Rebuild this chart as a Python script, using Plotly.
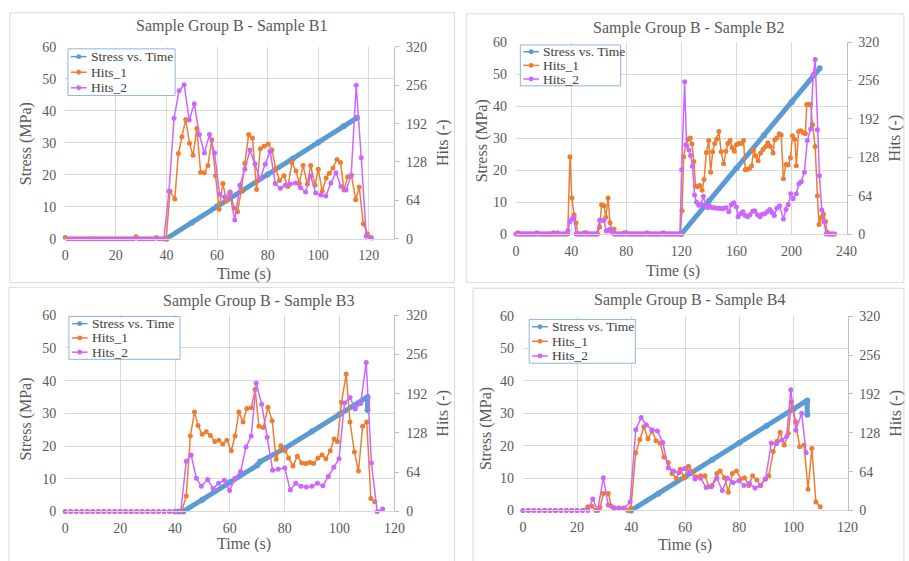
import plotly.graph_objects as go

W, H = 909, 561
FONT = "'Liberation Serif', 'Times New Roman', Times, serif"
TXT = "#595959"
GRID = "#D9D9D9"
BLUE = "#5B9BD5"
ORANGE = "#ED7D31"
PURPLE = "#CC66FF"

# ---------------- Sample B1 ----------------
b1_stress_t = [40, 50, 60, 70, 80, 90, 100, 110, 115.3]
b1_stress = [0, 5.0, 10.1, 15.1, 20.1, 25.1, 30.1, 35.2, 37.8]
b1_h1_t = [0, 2, 4, 6, 8, 10, 12, 14, 16, 18, 20, 22, 24, 26, 28, 30, 32, 34, 36, 38, 39.9,
           41.4, 43.3, 44.7, 46.1, 47.6, 49.1, 50.5, 52.0, 53.5, 55.0,
           56.4, 57.9, 59.4, 60.8, 62.3, 63.7, 65.2, 66.7, 68.1, 69.6,
           71.0, 72.5, 74.0, 75.6, 77.1, 78.6, 80.2, 81.7, 83.2, 84.7,
           86.4, 88.0, 89.6, 91.2, 92.5, 94.0, 95.7, 97.0, 98.7, 100.0,
           101.6, 103.1, 104.4, 105.8, 107.4, 108.8, 110.2, 111.6, 113.1, 114.8,
           116.2, 117.8, 119.4, 120.8]
b1_h1 = [2, 0, 0, 0, 0, 0, 0, 0, 0, 0, 0, 0, 0, 0, 3, 0, 0, 0, 2, 0, 0,
         79, 66, 142, 170, 199, 159, 139, 184, 111, 110,
         122, 165, 105, 49, 92, 63, 78, 51, 45, 81,
         126, 174, 168, 82, 150, 154, 158, 148, 117, 97,
         105, 87, 127, 113, 92, 122, 91, 122, 89, 116,
         79, 101, 109, 118, 132, 127, 81, 103, 106, 65,
         86, 25, 8, 2]
b1_h2_t = [1, 3, 5, 7, 9, 11, 13, 15, 17, 19, 21, 23, 25, 27, 29, 31, 33, 35, 37, 39,
           41, 43, 45, 47, 49, 51, 53, 55, 57, 59, 61, 63, 65, 67, 69, 71, 73, 75, 77, 79,
           81, 83, 85, 87, 89, 91, 93, 95, 97, 99, 101, 103, 105, 107, 109, 111, 113, 115,
           117, 119, 121]
b1_h2 = [0, 0, 0, 0, 0, 0, 0, 0, 0, 0, 0, 0, 0, 0, 0, 0, 0, 0, 0, 0,
         79, 201, 247, 257, 198, 225, 174, 143, 174, 143, 74, 69, 77, 31, 89, 116, 148, 125, 99, 124,
         146, 92, 84, 89, 91, 93, 85, 78, 105, 76, 73, 71, 93, 110, 87, 81, 105, 256,
         135, 4, 1]

# ---------------- Sample B2 ----------------
b2_stress_t = [120, 140, 160, 180, 200, 220.5]
b2_stress = [0, 10.3, 20.6, 30.9, 41.2, 51.8]
b2_h1_t = [0, 1.5, 3, 4.5, 6, 7.5, 9, 10.5, 12, 13.5, 15, 16.5, 18, 19.5, 21, 22.5, 24, 25.5,
           27, 28.5, 30, 31.5, 33, 34.5, 36, 37.5,
           39.1, 40.5, 42.1, 43.5, 44.9, 46.4, 47.9, 49.4, 50.9, 52.4, 53.9, 55.4, 56.9, 58.4, 59.2,
           60.7, 62.1, 63.8, 65.2, 66.8, 68.2, 69.7, 71.1, 72.5,
           74, 75.5, 77, 78.5, 80, 81.5, 83, 84.5, 86, 87.5, 89, 90.5, 92, 93.5, 95, 96.5, 98,
           99.5, 101, 102.5, 104, 105.5, 107, 108.5, 110, 111.5, 113, 114.5, 116, 117.5, 119,
           120.5, 121.7, 123.3, 125, 126.5, 127.7, 129.1, 130.3, 131.7, 133.4, 135.1, 136.5,
           138.2, 139.9, 141.3, 142.7, 144.2, 145.6, 147.3, 148.9, 150.7, 152.3, 153.8, 155.4,
           156.9, 158.5, 160, 161.6, 163.5, 165.2, 166.4, 167.8, 169.4, 171.1, 172.5, 174.1,
           175.8, 177.6, 179.3, 181.2, 182.8, 184.7, 186.6, 187.8, 189.4, 191.1, 192.5, 194.1,
           196, 197.6, 199.3, 200.7, 202.4, 203.5, 205.2, 206.8, 208.7, 210.1, 211.1, 212.5,
           213.9, 215.3, 217.2, 218.8, 220, 221.6, 223.3, 224.7, 225.9, 227.5, 229.4, 231.3]
b2_h1 = [0, 2, 0, 0, 0, 0, 0, 0, 0, 0, 2, 0, 0, 0, 0, 0, 0, 0,
         2, 0, 2, 0, 0, 0, 0, 0,
         129, 60, 32, 19, 0, 0, 0, 2, 2, 0, 0, 0, 0, 0, 0,
         12, 49, 47, 28, 60, 19, 4, 8, 0,
         0, 0, 0, 2, 2, 0, 0, 0, 0, 0, 0, 0, 0, 0, 2, 0, 0,
         0, 0, 0, 0, 0, 2, 0, 0, 0, 0, 0, 0, 0, 0,
         39, 129, 149, 158, 160, 150, 121, 80, 79, 81, 73, 91,
         136, 156, 103, 137, 151, 158, 171, 137, 117, 138, 151, 156,
         144, 138, 149, 151, 151, 156, 107, 108, 109, 114, 140, 130,
         122, 135, 141, 146, 152, 146, 135, 157, 160, 167, 165, 92,
         116, 115, 127, 164, 158, 114, 171, 172, 169, 167, 216, 216,
         216, 182, 146, 64, 16, 28, 33, 21, 3, 0, 0, 0]
b2_h2_t = [0, 1.5, 3, 4.5, 6, 7.5, 9, 10.5, 12, 13.5, 15, 16.5, 18, 19.5, 21, 22.5, 24, 25.5,
           27, 28.5, 30, 31.5, 33, 34.5, 36,
           37.6, 39.1, 40.5, 42.1, 43.5, 45, 46.5, 48, 49.5, 51, 52.5, 54, 55.5, 57, 58.5,
           60.7, 62.1, 63.8, 65.4, 66.8, 68.2, 69.6, 71,
           72.5, 74, 75.5, 77, 78.5, 80, 81.5, 83, 84.5, 86, 87.5, 89, 90.5, 92, 93.5, 95, 96.5,
           98, 99.5, 101, 102.5, 104, 105.5, 107, 108.5, 110, 111.5, 113, 114.5, 116, 117.5, 119,
           120.2, 122.4, 123.8, 125.5, 126.7, 128.1, 129.6, 131, 132.7, 134.4, 136, 137.7,
           139.4, 141.1, 142.7, 144.4, 146.1, 147.8, 149.5, 151.1, 152.6, 154.5, 156.4, 158.1,
           160, 161.2, 163.1, 164.7, 166.4, 168.2, 169.9, 171.8, 173.4, 175.3, 177.2, 178.8,
           180.5, 182.4, 184.2, 185.9, 187.5, 189.4, 191.3, 194.1, 196, 197.6, 199.5, 201.2,
           203.5, 205.4, 207.1, 209.4, 211.5, 213.9, 215.8, 217.2, 218.8, 220.3, 222, 223.5,
           225.2, 227, 229, 230.6]
b2_h2 = [0, 0, 0, 0, 0, 0, 0, 0, 0, 0, 0, 0, 0, 0, 0, 0, 0, 0,
         0, 0, 0, 0, 0, 0, 0,
         6, 21, 25, 27, 0, 0, 0, 0, 0, 0, 0, 0, 0, 0, 0,
         23, 23, 23, 5, 6, 8, 4, 0,
         0, 0, 0, 0, 0, 0, 0, 0, 0, 0, 0, 0, 0, 0, 0, 0, 0,
         0, 0, 0, 0, 0, 0, 0, 0, 0, 0, 0, 0, 0, 0, 0,
         107, 254, 147, 140, 131, 113, 65, 53, 48, 50, 63, 48,
         44, 46, 44, 44, 43, 43, 42, 43, 44, 37, 49, 52,
         45, 29, 34, 37, 31, 29, 32, 38, 39, 32, 29, 33,
         34, 37, 41, 36, 31, 43, 47, 25, 41, 49, 67, 59,
         67, 84, 87, 103, 156, 175, 266, 291, 174, 97, 40, 21,
         0, 0, 0, 0]

# ---------------- Sample B3 ----------------
b3_stress_t = [40, 41.5, 43, 50, 60, 70, 71, 80, 90, 100, 110.2, 110.2]
b3_stress = [0, 0, 0, 3.6, 8.9, 14.1, 15.2, 19.3, 24.5, 29.7, 35.0, 31.0]
b3_h1_t = [0, 2, 4, 6, 8, 10, 12, 14, 16, 18, 20, 22, 24, 26, 28, 30, 32, 34, 36, 38, 40, 42.4,
           44.1, 45.6, 47.1, 48.4, 49.9, 51.4, 52.9, 54.5, 56, 57.4, 58.9, 60.5, 61.9, 63.3,
           64.8, 66.2, 67.8, 69.2, 70.6, 72.2, 73.9, 75.4, 76.9, 78.6, 80.1, 81.4, 83, 84.6,
           86.2, 87.7, 89.1, 90.5, 92.1, 93.6, 95, 96.6, 98, 99.2, 100.7, 102.4, 103.8, 105.4,
           106.9, 108.4, 109.9, 111.4, 112.8]
b3_h1 = [0, 0, 0, 0, 0, 0, 0, 0, 0, 0, 0, 0, 0, 0, 0, 0, 0, 0, 0, 0, 0, 0,
         25, 123, 162, 140, 126, 130, 124, 114, 116, 110, 116, 99, 123, 162,
         146, 168, 169, 199, 139, 137, 170, 148, 85, 107, 99, 87, 74, 90,
         79, 78, 80, 78, 87, 92, 86, 99, 118, 114, 178, 224, 146, 97,
         66, 139, 146, 21, 16]
b3_h2_t = [0, 2, 4, 6, 8, 10, 12, 14, 16, 18, 20, 22, 24, 26, 28, 30, 32, 34, 36, 38, 40, 42.1,
           44.1, 45.9, 47.8, 49.6, 51.9, 53.9, 55.9, 58, 59.9, 61.9, 63.9, 65.9, 67.8, 69.6,
           71.6, 73.6, 75.6, 77.6, 80, 82, 84, 85.9, 87.9, 89.9, 91.9, 93.9, 95.9, 97.9, 99.8,
           101.8, 103.8, 105.7, 107.7, 109.7, 111.6, 113.7, 115.7]
b3_h2 = [0, 0, 0, 0, 0, 0, 0, 0, 0, 0, 0, 0, 0, 0, 0, 0, 0, 0, 0, 0, 0, 0,
         82, 92, 54, 41, 52, 37, 46, 51, 34, 54, 65, 105, 123, 209,
         175, 121, 67, 69, 71, 35, 46, 41, 40, 41, 46, 42, 57, 72, 86,
         177, 186, 167, 176, 243, 79, 0, 4]

# ---------------- Sample B4 ----------------
b4_stress_t = [40, 50, 60, 70, 80, 90, 100, 105.1, 105.1]
b4_stress = [0, 5.2, 10.4, 15.7, 20.9, 26.1, 31.3, 34.0, 29.6]
b4_h1_t = [0, 2, 4, 6, 8, 10, 12, 14, 16, 18, 20, 22,
           24, 25.5, 27, 28.5, 29.7, 31.5, 32.7, 33.9, 35.7, 37.2, 38.7, 39.9,
           41.7, 43.2, 44.7, 46.2, 47.7, 49.2, 50.7, 52.1, 53.7, 55.1, 56.7, 58.1, 59.7,
           61.2, 62.7, 64.1, 65.7, 67.3, 68.7, 69.9, 71.7, 72.9, 74.5, 75.9, 77.4, 78.9,
           80.5, 81.9, 83.5, 84.9, 86.5, 87.9, 89.5, 90.9, 92.5, 93.9, 95.1, 96.6, 98.1,
           99.3, 100.8, 102.3, 103.9, 105.4, 106.8, 108.3, 109.9]
b4_h1 = [0, 0, 0, 0, 0, 0, 0, 0, 0, 0, 0, 0,
         6, 7, 0, 5, 28, 28, 7, 4, 4, 4, 0, 4,
         95, 117, 138, 118, 131, 115, 111, 88, 79, 61, 53, 68, 54,
         73, 63, 55, 57, 57, 39, 41, 61, 65, 54, 30, 61, 65,
         52, 54, 41, 57, 50, 41, 52, 57, 97, 114, 129, 108, 127,
         179, 146, 105, 108, 35, 102, 14, 6]
b4_h2_t = [0, 2, 4, 6, 8, 10, 12, 14, 16, 18, 20, 22,
           24, 25.8, 27.6, 29.7, 31.5, 33.5, 35.4, 37.5, 39.6,
           41.7, 43.7, 45.6, 47.7, 49.7, 51.7, 53.7, 55.7, 57.7, 59.7, 61.7, 63.6, 65.7,
           67.7, 69.6, 71.7, 73.7, 75.6, 77.7, 79.8, 81.7, 83.7, 85.8, 87.7, 89.7, 91.8,
           93.7, 95.7, 97.5, 99, 100.9, 103, 104.7]
b4_h2 = [0, 0, 0, 0, 0, 0, 0, 0, 0, 0, 0, 0,
         0, 19, 0, 54, 9, 4, 4, 4, 14,
         133, 153, 141, 133, 131, 112, 70, 65, 62, 69, 64, 52, 53,
         38, 39, 53, 33, 53, 46, 49, 41, 45, 37, 41, 52, 111,
         110, 116, 122, 199, 132, 160, 95]

series_names = ["Stress vs. Time", "Hits_1", "Hits_2"]
series_colors = [BLUE, ORANGE, PURPLE]

panels = [
    dict(title="Sample Group B - Sample B1", st=b1_stress_t, s=b1_stress,
         h1t=b1_h1_t, h1=b1_h1, h2t=b1_h2_t, h2=b1_h2,
         xr=[0, 130], dx=20, xd=(62.3, 396.7), yd=(41, 238),
         tpos=(232, 20), xtpos=(243.7, 274), ylpos=(22.3, 140),
         legbox=(65, 43, 174, 91), box=(6, 6, 458, 283)),
    dict(title="Sample Group B - Sample B2", st=b2_stress_t, s=b2_stress,
         h1t=b2_h1_t, h1=b2_h1, h2t=b2_h2_t, h2=b2_h2,
         xr=[0, 240], dx=40, xd=(520.7, 856.7), yd=(36, 233.3),
         tpos=(697, 22), xtpos=(680.7, 271.7), ylpos=(486, 137),
         legbox=(525, 39, 627, 81), box=(470, 7, 915, 283)),
    dict(title="Sample Group B - Sample B3", st=b3_stress_t, s=b3_stress,
         h1t=b3_h1_t, h1=b3_h1, h2t=b3_h2_t, h2=b3_h2,
         xr=[0, 120], dx=20, xd=(62.3, 397), yd=(316.7, 518.3),
         tpos=(259, 302), xtpos=(243.7, 551.7), ylpos=(22.3, 423),
         legbox=(66, 318, 179, 362), box=(5, 288, 458, 570)),
    dict(title="Sample Group B - Sample B4", st=b4_stress_t, s=b4_stress,
         h1t=b4_h1_t, h1=b4_h1, h2t=b4_h2_t, h2=b4_h2,
         xr=[0, 120], dx=20, xd=(527.7, 857.7), yd=(317.7, 517.3),
         tpos=(698, 301), xtpos=(692.7, 552.7), ylpos=(490.7, 433),
         legbox=(534, 321, 642, 366), box=(477, 289, 915, 570)),
]


def fx(v):
    return v / W


def fy(v):
    return 1 - v / H


fig = go.Figure()
layout = dict(width=W, height=H, margin=dict(l=0, r=0, t=0, b=0),
              paper_bgcolor="white", plot_bgcolor="white", showlegend=False,
              font=dict(family=FONT, color=TXT))
annotations = []
shapes = []
tickfont = dict(family=FONT, size=14, color=TXT)


def label(text, pos, size=16, angle=0, color=TXT, xanchor="center"):
    return dict(text=text, x=fx(pos[0]), y=fy(pos[1]), xref="paper", yref="paper",
                xanchor=xanchor, yanchor="middle", showarrow=False, textangle=angle,
                font=dict(family=FONT, size=size, color=color))


for i, p in enumerate(panels):
    xa = "x" if i == 0 else f"x{i+1}"
    yl = "y" if i == 0 else f"y{2*i+1}"
    yr = f"y{2*i+2}"
    xkey = "xaxis" if i == 0 else f"xaxis{i+1}"
    ylkey = "yaxis" if i == 0 else f"yaxis{2*i+1}"
    yrkey = f"yaxis{2*i+2}"

    fig.add_trace(go.Scatter(x=p["st"], y=p["s"], mode="lines+markers", name=series_names[0],
                             line=dict(color=BLUE, width=5), marker=dict(color=BLUE, size=6),
                             xaxis=xa, yaxis=yl, cliponaxis=False))
    fig.add_trace(go.Scatter(x=p["h1t"], y=p["h1"], mode="lines+markers", name=series_names[1],
                             line=dict(color=ORANGE, width=1.5), marker=dict(color=ORANGE, size=5),
                             xaxis=xa, yaxis=yr, cliponaxis=False))
    fig.add_trace(go.Scatter(x=p["h2t"], y=p["h2"], mode="lines+markers", name=series_names[2],
                             line=dict(color=PURPLE, width=1.5), marker=dict(color=PURPLE, size=5),
                             xaxis=xa, yaxis=yr, cliponaxis=False))

    layout[xkey] = dict(domain=[fx(p["xd"][0]), fx(p["xd"][1])], range=p["xr"], dtick=p["dx"],
                        tick0=0, anchor=yl, showgrid=True, gridcolor=GRID, zeroline=False,
                        showline=True, linecolor=GRID, ticks="", tickfont=tickfont,
                        ticklabelstandoff=4)
    layout[ylkey] = dict(domain=[fy(p["yd"][1]), fy(p["yd"][0])], range=[0, 60], dtick=10,
                         tick0=0, anchor=xa, showgrid=True, gridcolor=GRID, zeroline=False,
                         showline=False, ticks="", tickfont=tickfont, ticklabelstandoff=8)
    layout[yrkey] = dict(domain=[fy(p["yd"][1]), fy(p["yd"][0])], range=[0, 320], dtick=64,
                         tick0=0, anchor=xa, overlaying=yl, side="right", showgrid=False,
                         zeroline=False, showline=True, linecolor="#BFBFBF", ticks="outside",
                         ticklen=4, tickcolor="#BFBFBF", tickfont=tickfont, ticklabelstandoff=4,
                         title=dict(text="Hits (-)", standoff=10,
                                    font=dict(family=FONT, size=16, color=TXT)),
                         automargin=False)

    annotations.append(label(p["title"], p["tpos"], 16))
    annotations.append(label("Time (s)", p["xtpos"], 16))
    annotations.append(label("Stress (MPa)", p["ylpos"], 16, -90))
    b = p["box"]
    shapes.append(dict(type="rect", xref="paper", yref="paper", x0=fx(b[0]), x1=fx(b[2]),
                       y0=fy(b[3]), y1=fy(b[1]), line=dict(color=GRID, width=1), layer="below"))

    # legend box drawn in Excel style (compact)
    lx0, ly0, lx1, ly1 = p["legbox"]
    shapes.append(dict(type="rect", xref="paper", yref="paper", x0=fx(lx0), x1=fx(lx1),
                       y0=fy(ly1), y1=fy(ly0), line=dict(color="#8EB4E3", width=1),
                       fillcolor="white", layer="above"))
    rowh = (ly1 - ly0) / 3.0
    for k, (nm, col) in enumerate(zip(series_names, series_colors)):
        ry = ly0 + rowh * (k + 0.5)
        shapes.append(dict(type="line", xref="paper", yref="paper", x0=fx(lx0 + 3),
                           x1=fx(lx0 + 19), y0=fy(ry), y1=fy(ry),
                           line=dict(color=col, width=1.5), layer="above"))
        shapes.append(dict(type="circle", xref="paper", yref="paper", x0=fx(lx0 + 8.5),
                           x1=fx(lx0 + 13.5), y0=fy(ry + 2.5), y1=fy(ry - 2.5),
                           line=dict(color=col, width=0), fillcolor=col, layer="above"))
        annotations.append(label(nm, (lx0 + 21, ry), 13.5, 0, "#404040", "left"))

layout["annotations"] = annotations
layout["shapes"] = shapes
fig.update_layout(**layout)
fig.write_html("out.html",
               config={"displayModeBar": False, "staticPlot": True},
               post_script="document.body.style.margin='0px';"
                           "document.body.style.overflow='hidden';")
